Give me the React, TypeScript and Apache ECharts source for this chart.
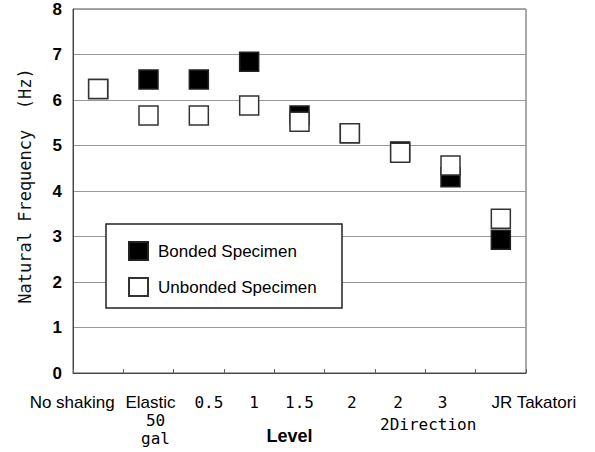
import React, { useEffect, useRef } from "react";
import * as echarts from "echarts";

// ---- data ----
const categories = [
  "No shaking",
  "Elastic\n50\ngal",
  "0.5",
  "1",
  "1.5",
  "2",
  "2\n2Direction",
  "3",
  "JR Takatori",
];
const bondedValues = [6.24, 6.45, 6.45, 6.84, 5.66, 5.27, 4.87, 4.3, 2.93];
const unbondedValues = [6.24, 5.66, 5.66, 5.88, 5.52, 5.27, 4.84, 4.56, 3.39];
const seriesNames = ["Bonded Specimen", "Unbonded Specimen"];
const yAxisTitle = "Natural Frequency  (Hz)";
const xAxisTitle = "Level";

// ---- label styling (font kind and horizontal shift per line) ----
const labelFonts: string[][] = [
  ["p"],
  ["p", "m", "m"],
  ["m"],
  ["m"],
  ["m"],
  ["m"],
  ["m", "d"],
  ["m"],
  ["p"],
];
const labelShifts: number[][] = [
  [-26],
  [2, 7, 7],
  [10],
  [5],
  [0],
  [2],
  [-2, 28],
  [-8],
  [33],
];

const SANS = "Liberation Sans, Arial, sans-serif";
const MONO = "DejaVu Sans Mono, monospace";

function buildRich() {
  const rich: Record<string, any> = {};
  labelFonts.forEach((lines, i) => {
    lines.forEach((kind, j) => {
      const s = labelShifts[i][j] || 0;
      const pad = s >= 0 ? [0, 0, 0, 2 * s] : [0, -2 * s, 0, 0];
      rich[`s${i}_${j}`] = {
        fontFamily: kind === "p" ? SANS : MONO,
        fontSize: kind === "p" ? 17 : 16,
        color: "#000",
        lineHeight: kind === "d" ? 26 : 18,
        padding: pad,
      };
    });
  });
  return rich;
}

export default function App() {
  const ref = useRef<HTMLDivElement>(null);
  useEffect(() => {
    if (!ref.current) return;
    const chart = echarts.init(ref.current, undefined, { renderer: "svg" });
    const rich = buildRich();
    chart.setOption({
      animation: false,
      backgroundColor: "#fff",
      grid: {
        left: 73,
        top: 9,
        width: 453,
        height: 364,
        show: true,
        containLabel: false,
        outerBoundsMode: "none",
        borderColor: "#555",
        borderWidth: 1,
        backgroundColor: "transparent",
      },
      xAxis: {
        type: "category",
        data: categories,
        boundaryGap: true,
        name: xAxisTitle,
        nameLocation: "middle",
        nameGap: 54,
        nameMoveOverlap: false,
        nameTextStyle: {
          fontFamily: SANS,
          fontSize: 18,
          fontWeight: "bold",
          color: "#000",
          padding: [0, 20, 0, 0],
        },
        axisLine: { lineStyle: { color: "#444", width: 1 } },
        axisTick: {
          show: true,
          inside: true,
          length: 4,
          alignWithLabel: false,
          lineStyle: { color: "#666" },
        },
        axisLabel: {
          interval: 0,
          margin: 20,
          formatter: (value: string, idx: number) =>
            value
              .split("\n")
              .map((line, j) => `{s${idx}_${j}|${line}}`)
              .join("\n"),
          rich,
        },
        splitLine: { show: false },
      },
      yAxis: {
        type: "value",
        min: 0,
        max: 8,
        interval: 1,
        name: yAxisTitle,
        nameLocation: "middle",
        nameGap: 40,
        nameMoveOverlap: false,
        nameTextStyle: {
          fontFamily: MONO,
          fontSize: 17,
          color: "#111",
          padding: [0, 0, 0, 10],
        },
        axisLine: { show: true, lineStyle: { color: "#444", width: 1 } },
        axisTick: { show: false },
        axisLabel: {
          margin: 11,
          fontFamily: SANS,
          fontSize: 17,
          fontWeight: "bold",
          color: "#000",
        },
        splitLine: { show: true, lineStyle: { color: "#999", width: 1 } },
      },
      legend: {
        orient: "vertical",
        left: 128,
        top: 241,
        padding: 0,
        itemWidth: 19,
        itemHeight: 18,
        itemGap: 16,
        z: 5,
        data: seriesNames,
        textStyle: {
          fontFamily: SANS,
          fontSize: 17,
          color: "#000",
          padding: [0, 0, 0, 5],
        },
      },
      graphic: [
        {
          type: "rect",
          z: 4,
          shape: { x: 106, y: 224, width: 236, height: 84 },
          style: { fill: "#fff", stroke: "#222", lineWidth: 1.5 },
        },
      ],
      series: [
        {
          name: seriesNames[0],
          type: "scatter",
          symbol: "rect",
          symbolSize: 19,
          data: bondedValues,
          itemStyle: { color: "#000", borderColor: "#222", borderWidth: 1.5, opacity: 1 },
          z: 2,
        },
        {
          name: seriesNames[1],
          type: "scatter",
          symbol: "rect",
          symbolSize: 19,
          data: unbondedValues,
          itemStyle: { color: "#fff", borderColor: "#333", borderWidth: 1.5, opacity: 1 },
          z: 3,
        },
      ],
    });
    return () => chart.dispose();
  }, []);
  return (
    <div
      ref={ref}
      style={{ position: "fixed", left: 0, top: 0, width: 595, height: 452, background: "#fff" }}
    />
  );
}
